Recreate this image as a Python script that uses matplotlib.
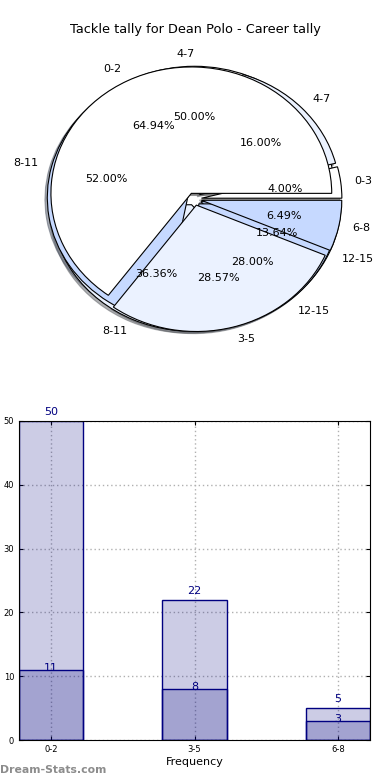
import matplotlib
matplotlib.use("Agg")
import matplotlib.pyplot as plt
import numpy as np

# datos de las tortas
total_labels = ['0-2', '3-5', '6-8']
total_vals = [50, 22, 5]
made_labels = ['4-7', '8-11', '12-15']
made_vals = [11, 8, 3]
range_labels = ['0-3', '4-7', '8-11', '12-15']
range_vals = [1, 4, 13, 7]

# datos de las barras
bar_cats = ['0-2', '3-5', '6-8']
bar_total = [50, 22, 5]
bar_made = [11, 8, 3]

blanco = '#ffffff'
celeste = '#ebf2ff'
azul = '#c6d9ff'

fig = plt.figure(figsize=(3.9, 7.8), dpi=100)

ax = fig.add_axes([19/390, 1-357/780, 351/390, 316/780])
wp = {'edgecolor': 'black', 'linewidth': 0.8}
tp = {'fontsize': 8}
sombra = {'ox': -0.012, 'oy': -0.012, 'shade': 0.6}

# orden: la de abajo primero
ax.pie(made_vals, labels=made_labels, colors=[blanco, celeste, azul],
       explode=[0.05]*3, autopct='%1.2f%%', shadow=sombra,
       wedgeprops=wp, textprops=tp)
ax.pie(range_vals, labels=range_labels, colors=[blanco, celeste, azul, azul],
       explode=[0.05]*4, autopct='%1.2f%%', shadow=sombra,
       wedgeprops=wp, textprops=tp)
ax.pie(total_vals, labels=total_labels, colors=[blanco, celeste, azul],
       explode=[0.05]*3, autopct='%1.2f%%', shadow=sombra,
       wedgeprops=wp, textprops=tp)
ax.set_aspect('auto')
ax.set_xlim(-1.25, 1.25)
ax.set_ylim(-1.25, 1.25)
fig.text(0.5, 1-30/780, 'Tackle tally for Dean Polo - Career tally',
         ha='center', va='center', fontsize=9.3)

# barras
ax2 = fig.add_axes([19/390, 1-740/780, 351/390, 319/780])
x = np.arange(len(bar_cats))
w = 0.446
ax2.bar(x, bar_total, width=w, color=(0, 0, 0.5, 0.2), edgecolor='navy', linewidth=1, zorder=2)
ax2.bar(x, bar_made, width=w, color=(0, 0, 0.5, 0.2), edgecolor='navy', linewidth=1, zorder=2)
for i in range(len(x)):
    ax2.annotate(str(bar_total[i]), (x[i], bar_total[i]), xytext=(0, 6.5),
                 textcoords='offset points', ha='center', va='center',
                 color='navy', fontsize=8)
    ax2.annotate(str(bar_made[i]), (x[i], bar_made[i]), xytext=(0, 1.5),
                 textcoords='offset points', ha='center', va='center',
                 color='navy', fontsize=8)
ax2.set_xlim(-w/2, 2 + w/2)
ax2.set_ylim(0, 50)
ax2.set_xticks(x)
ax2.set_xticklabels(bar_cats)
ax2.set_yticks(range(0, 51, 10))
ax2.tick_params(direction='in', top=True, right=True, labelsize=6, length=3)
ax2.grid(True, color='#b0b0b0', linestyle=(0, (1, 2)), linewidth=1, zorder=0)
ax2.set_axisbelow(True)
ax2.set_xlabel('Frequency', fontsize=8, labelpad=2)

fig.text(0.0, 1-770/780, 'Dream-Stats.com', ha='left', va='center',
         fontsize=7.8, fontweight='bold', color='#8c8c8c')

fig.savefig('out.png', dpi=100)
